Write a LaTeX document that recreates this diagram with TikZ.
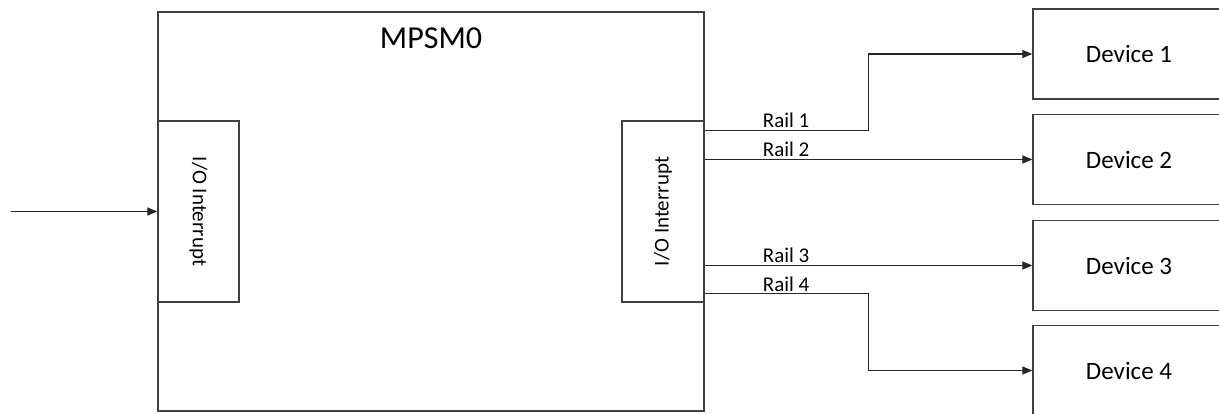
\documentclass[tikz,border=0pt]{standalone}
\usepackage{fontspec}
\setmainfont{Carlito}
\usetikzlibrary{arrows.meta,calc}
\begin{document}
\begin{tikzpicture}[x=1pt,y=-1pt,
  box/.style={draw=black!75,line width=1.3pt,fill=white,rectangle,inner sep=0pt},
  wire/.style={draw=black!85,line width=1.2pt,-{Triangle[length=10pt,width=8pt]}},
  plain/.style={draw=black!85,line width=1.2pt},
  raillbl/.style={anchor=base west,inner sep=0pt,font=\fontsize{21}{25}\selectfont},
  devtxt/.style={font=\fontsize{25}{30}\selectfont},
  iotxt/.style={font=\fontsize{21}{25}\selectfont}]
\useasboundingbox (0,0) rectangle (1219,414);
\fill[white] (0,0) rectangle (1219,414);
% main box
\node[box,minimum width=546pt,minimum height=399pt] (main) at (431,211.5) {};
\node[anchor=base,inner sep=0pt,font=\fontsize{32}{38}\selectfont] (title) at (431,49) {MPSM0};
% I/O boxes
\node[box,minimum width=81pt,minimum height=181pt] (ioL) at (198.5,211.5) {};
\node[iotxt,rotate=-90] (ioLt) at (ioL.center) {I/O Interrupt};
\node[box,minimum width=82pt,minimum height=181pt] (ioR) at (663,211.5) {};
\node[iotxt,rotate=90] (ioRt) at (ioR.center) {I/O Interrupt};
% devices (clipped at picture edge)
\begin{scope}
\clip (0,0) rectangle (1219,414);
\node[box,minimum width=192pt,minimum height=90pt] (d1) at (1129,54) {};
\node[box,minimum width=192pt,minimum height=90pt] (d2) at (1129,159.5) {};
\node[box,minimum width=192pt,minimum height=90pt] (d3) at (1129,265.5) {};
\node[box,minimum width=192pt,minimum height=90pt] (d4) at (1129,370.5) {};
\end{scope}
\node[devtxt] (d1t) at (d1.center) {Device 1};
\node[devtxt] (d2t) at (d2.center) {Device 2};
\node[devtxt] (d3t) at (d3.center) {Device 3};
\node[devtxt] (d4t) at (d4.center) {Device 4};
% input
\coordinate (in) at (11,211.5);
\draw[wire] (in) -- (ioL.west);
% rails
\coordinate (r1) at ([yshift=-10pt]ioR.north east);
\coordinate (r4) at ([yshift=9pt]ioR.south east);
\draw[wire] (r1) -- ($(r1)+(164,0)$) |- (d1.west);
\draw[wire] (ioR.east |- d2.west) -- (d2.west);
\draw[wire] (ioR.east |- d3.west) -- (d3.west);
\draw[wire] (r4) -- ($(r4)+(164,0)$) |- (d4.west);
\node[raillbl] (l1) at ($(r1)+(58,-2.5)$) {Rail 1};
\node[raillbl] (l2) at ($(ioR.east |- d2.west)+(58,-2.5)$) {Rail 2};
\node[raillbl] (l3) at ($(ioR.east |- d3.west)+(58,-2.5)$) {Rail 3};
\node[raillbl] (l4) at ($(r4)+(58,-2.5)$) {Rail 4};
\end{tikzpicture}
\end{document}
